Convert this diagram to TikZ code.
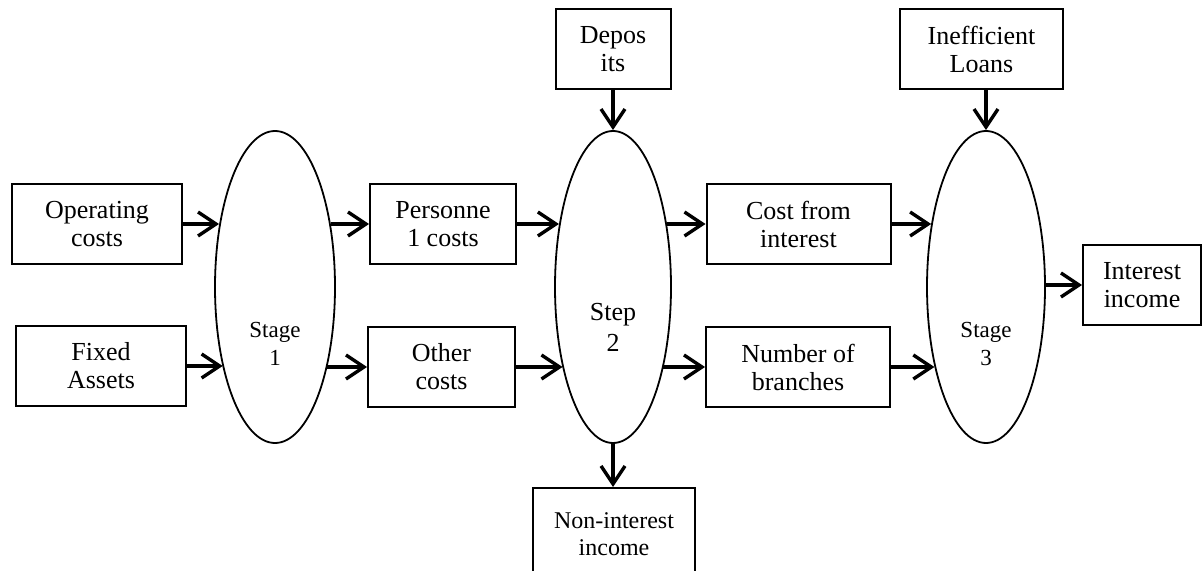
\documentclass[tikz,border=0pt]{standalone}
\usepackage{fontspec}
\setmainfont{Liberation Serif}
\usetikzlibrary{shapes.geometric, arrows.meta}

\begin{document}
\begin{tikzpicture}[x=0.5pt, y=-0.5pt,
  block/.style={draw, line width=1pt, minimum height=40pt, align=center,
                inner sep=2pt, font=\fontsize{13}{14}\selectfont},
  stage/.style={draw, ellipse, line width=0.9pt, minimum height=156pt, inner sep=0pt},
  stagetext/.style={align=center, font=\fontsize{11.5}{14}\selectfont},
  arrow/.style={-{Straight Barb[length=9pt,width=12pt]}, line width=1.7pt}
]
\useasboundingbox (0,0) rectangle (1203,571);

% inputs and first stage
\node[block, minimum width=85pt] (opc) at (97,224) {Operating\\costs};
\node[block, minimum width=85pt] (fa) at (101,366) {Fixed\\Assets};
\node[stage, minimum width=60pt] (s1) at (275,287) {};
\node[stagetext] (s1t) at (275,344) {Stage\\1};

% second step
\node[block, minimum width=73pt] (pc) at (443,224) {Personne\\1 costs};
\node[block, minimum width=73.5pt] (oc) at (441.5,367) {Other\\costs};
\node[block, minimum width=57.5pt] (dep) at (613,49) {Depos\\its};
\node[stage, minimum width=58pt] (s2) at (613,287) {};
\node[stagetext, font=\fontsize{13}{15.5}\selectfont] (s2t) at (613,327) {Step\\2};
\node[block, minimum width=81pt, minimum height=46.5pt, anchor=north,
      font=\fontsize{12}{13.5}\selectfont] (nii) at (614,487) {Non-interest\\income};

% third stage
\node[block, minimum width=92pt] (cfi) at (798.5,224) {Cost from\\interest};
\node[block, minimum width=92pt] (nob) at (798,367) {Number of\\branches};
\node[block, minimum width=81.5pt] (ineff) at (981.5,49.5) {Inefficient\\Loans};
\node[stage, minimum width=59pt] (s3) at (986,287) {};
\node[stagetext] (s3t) at (986,344) {Stage\\3};
\node[block, minimum width=59pt] (ii) at (1142,285) {Interest\\income};

% connectors
\draw[arrow] (opc.east) -- (opc.east -| s1.132);
\draw[arrow] (fa.east) -- (fa.east -| s1.237);
\draw[arrow] (s1.48 |- pc.west) -- (pc.west);
\draw[arrow] (s1.303 |- oc.west) -- (oc.west);
\draw[arrow] (pc.east) -- (pc.east -| s2.131);
\draw[arrow] (oc.east) -- (oc.east -| s2.238);
\draw[arrow] (dep.south) -- (s2.north);
\draw[arrow] (s2.south) -- (s2.south |- nii.north);
\draw[arrow] (s2.49 |- cfi.west) -- (cfi.west);
\draw[arrow] (s2.302 |- nob.west) -- (nob.west);
\draw[arrow] (cfi.east) -- (cfi.east -| s3.131);
\draw[arrow] (nob.east) -- (nob.east -| s3.237);
\draw[arrow] (ineff.south -| s3.north) -- (s3.north);
\draw[arrow] (s3.east |- ii.west) -- (ii.west);
\end{tikzpicture}
\end{document}
